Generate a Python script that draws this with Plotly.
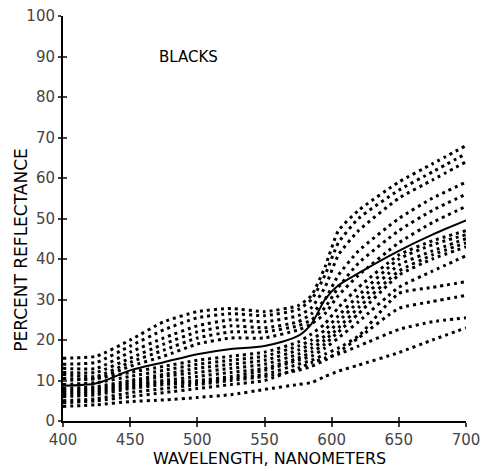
import plotly.graph_objects as go

wavelength = [400, 425, 450, 475, 500, 525, 550, 575, 585, 595, 605, 620, 650, 675, 700]

# Mean curve (solid)
mean_curve = [8.7, 9.3, 12.5, 14.5, 16.5, 17.8, 18.5, 21, 24, 30, 33.5, 36.5, 42, 46, 49.5]

# Individual samples (dotted)
sample_h1 = [15.5, 16, 20, 24.5, 27, 27.8, 27, 28.5, 31, 38, 47, 52, 59, 63.5, 68]
sample_h2 = [14, 14.5, 18.5, 22.5, 25.5, 26.5, 26, 27.5, 30, 36, 44, 50, 57, 61.5, 66]
sample_h3 = [13, 13, 17, 20.5, 23.5, 25, 24.5, 26, 28, 33, 41, 47, 55, 59.5, 64]
sample_h4 = [12, 12, 15.5, 19, 22, 23.5, 23, 24.5, 26.5, 30, 36, 42, 50, 55, 59]
sample_h5 = [11.5, 11, 14.5, 17.5, 20.5, 22, 22, 23.5, 25, 28, 33, 39, 47, 52, 56]
sample_h6 = [10.5, 10.5, 13.5, 16, 19, 20.5, 20.5, 22.5, 24, 26.5, 31, 36, 44, 49, 53]
sample_m1 = [10, 10.5, 12, 13.5, 15, 16, 17, 19.5, 21.5, 24, 28, 33, 41, 44.5, 47]
sample_m2 = [9, 9.5, 11, 12.5, 14, 15, 16, 18.5, 20, 22.5, 26, 31, 40, 43.5, 46]
sample_m3 = [8, 8.5, 10, 11.5, 13, 14, 15, 17.5, 19, 21, 24.5, 29.5, 38.5, 42, 45]
sample_m4 = [7.5, 8, 9.5, 11, 12, 13, 14, 16.5, 18, 20, 23, 28, 37, 41, 44]
sample_m5 = [7, 7.5, 9, 10, 11, 12, 13, 15.5, 17, 19, 22, 26.5, 36, 40, 43]
sample_m6 = [6.5, 7, 8.5, 9.5, 10, 11, 12.5, 15, 16, 18, 20.5, 24.5, 33, 37, 40.8]
sample_l1 = [6, 6.5, 8, 9, 9.5, 10.5, 11.5, 14, 15, 16.5, 18, 21, 31.5, 33, 34.4]
sample_l2 = [5, 5.5, 7, 8, 9, 10, 11, 12.5, 13.5, 15, 17, 20.5, 27.8, 29.5, 31]
sample_l3 = [4.5, 5, 6, 7, 8, 9, 10, 13, 14.4, 15.5, 16.5, 18.5, 22.6, 24.5, 25.5]
sample_l4 = [3.6, 4, 4.8, 5.2, 5.8, 6.5, 7.8, 9, 9.5, 11, 12.3, 13.8, 16.9, 20, 23]

samples = [sample_h1, sample_h2, sample_h3, sample_h4, sample_h5, sample_h6,
           sample_m1, sample_m2, sample_m3, sample_m4, sample_m5, sample_m6,
           sample_l1, sample_l2, sample_l3, sample_l4]

x_ticks = [400, 450, 500, 550, 600, 650, 700]
y_ticks = [0, 10, 20, 30, 40, 50, 60, 70, 80, 90, 100]

fig = go.Figure()
for s in samples:
    fig.add_trace(go.Scatter(x=wavelength, y=s, mode="lines",
                             line=dict(color="black", width=3, dash="3px,4px", shape="spline", smoothing=0.5),
                             hoverinfo="skip", showlegend=False))
fig.add_trace(go.Scatter(x=wavelength, y=mean_curve, mode="lines",
                         line=dict(color="black", width=2, shape="spline", smoothing=0.8),
                         showlegend=False))
# helper trace for the overlay axes (inner half of crossing ticks)
fig.add_trace(go.Scatter(x=[x_ticks[0]], y=[y_ticks[0]], xaxis="x2", yaxis="y2",
                         mode="markers", marker=dict(opacity=0), showlegend=False, hoverinfo="skip"))

tick_font = dict(family="DejaVu Sans", size=15, color="#444")
title_font = dict(family="DejaVu Sans", size=16, color="black")
fig.update_layout(
    width=487, height=471,
    margin=dict(l=63, r=21, t=16, b=50),
    plot_bgcolor="white", paper_bgcolor="white",
    xaxis=dict(range=[400, 700], tickvals=x_ticks, ticks="outside", ticklen=4, tickwidth=1.5,
               showline=True, linewidth=2, linecolor="black", showgrid=False, zeroline=False,
               tickfont=tick_font, automargin=False),
    yaxis=dict(range=[0, 100], tickvals=y_ticks, ticks="outside", ticklen=3, tickwidth=1.5,
               showline=True, linewidth=2, linecolor="black", showgrid=False, zeroline=False,
               tickfont=tick_font, automargin=False),
    xaxis2=dict(range=[400, 700], overlaying="x", anchor="y", side="bottom", tickvals=x_ticks,
                ticks="inside", ticklen=4, tickwidth=1.5, showticklabels=False,
                showline=False, showgrid=False, zeroline=False, automargin=False),
    yaxis2=dict(range=[0, 100], overlaying="y", anchor="x", side="left", tickvals=y_ticks,
                ticks="inside", ticklen=4, tickwidth=1.5, showticklabels=False,
                showline=False, showgrid=False, zeroline=False, automargin=False),
    annotations=[
        dict(text="BLACKS", x=0.233, y=0.925, xref="paper", yref="paper",
             showarrow=False, font=dict(family="DejaVu Sans", size=15, color="black")),
        dict(text="WAVELENGTH, NANOMETERS", x=0.512, y=-0.12, xref="paper", yref="paper",
             xanchor="center", yanchor="bottom", showarrow=False, font=title_font),
        dict(text="PERCENT REFLECTANCE", x=-0.104, y=0.423, xref="paper", yref="paper",
             xanchor="center", yanchor="middle", textangle=-90, showarrow=False,
             font=dict(family="DejaVu Sans", size=17, color="black")),
    ],
)

fig.write_html("out.html")
